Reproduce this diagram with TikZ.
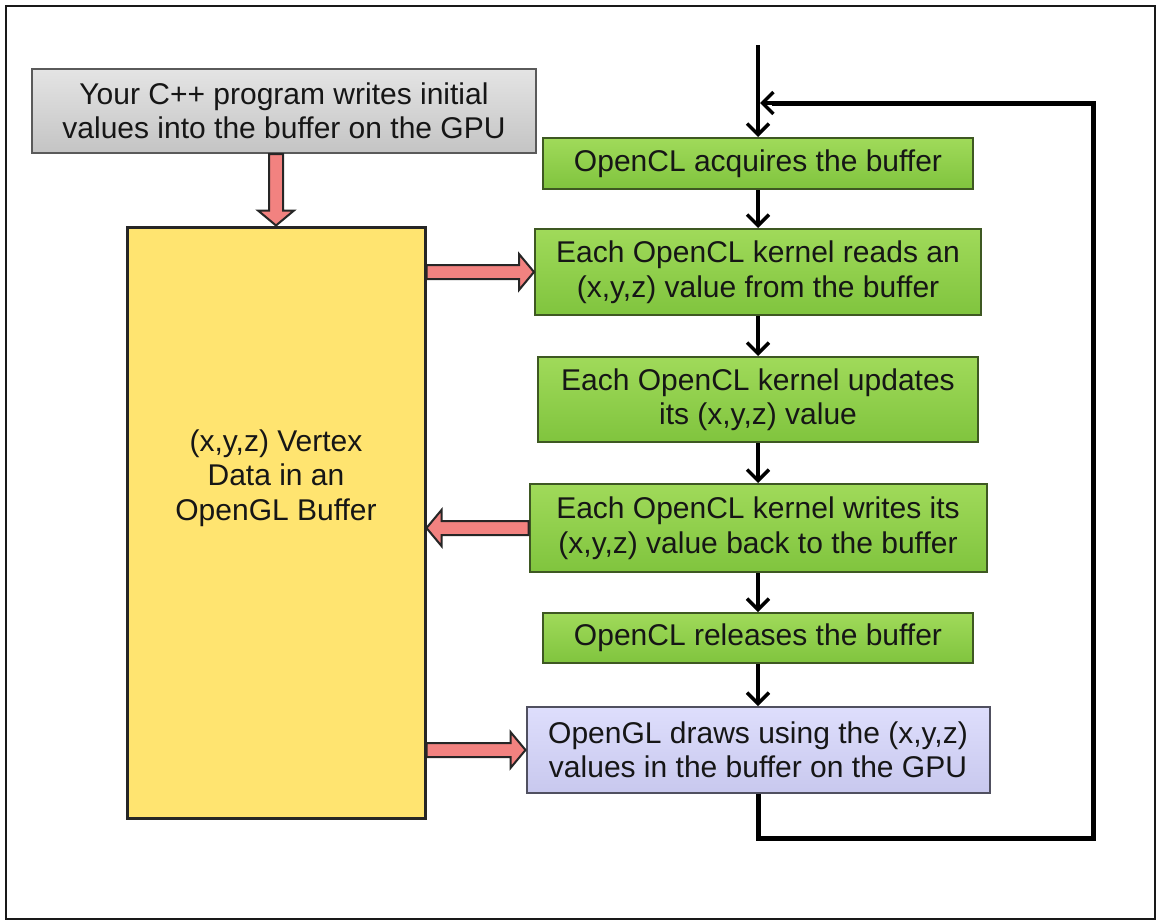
\documentclass[tikz,border=0pt]{standalone}
\usepackage{fontspec}
\setmainfont{Liberation Sans}
\usetikzlibrary{arrows.meta,calc}
\definecolor{grayfillA}{RGB}{228,228,228}
\definecolor{grayfillB}{RGB}{196,196,196}
\definecolor{grayedge}{RGB}{90,90,90}
\definecolor{greenA}{RGB}{160,218,90}
\definecolor{greenB}{RGB}{128,196,62}
\definecolor{greenedge}{RGB}{62,88,34}
\definecolor{yellowfill}{RGB}{255,228,112}
\definecolor{lavA}{RGB}{222,222,252}
\definecolor{lavB}{RGB}{200,200,238}
\definecolor{lavedge}{RGB}{80,80,96}
\definecolor{pinkfill}{RGB}{242,130,128}
\definecolor{txtc}{RGB}{22,22,22}
\tikzset{
  basebox/.style={rectangle, inner sep=0pt, align=center, text=txtc,
    font=\fontsize{30}{34.5}\selectfont},
  graybox/.style={basebox, draw=grayedge, line width=2pt, top color=grayfillA, bottom color=grayfillB},
  greenbox/.style={basebox, draw=greenedge, line width=2pt, top color=greenA, bottom color=greenB},
  lavbox/.style={basebox, draw=lavedge, line width=2pt, top color=lavA, bottom color=lavB},
  yellowbox/.style={rectangle, inner sep=0pt, draw=black!85, line width=3pt, fill=yellowfill},
  flow/.style={draw=black, line width=4pt, -{Straight Barb[length=11pt,width=22pt,line width=3.5pt]}},
  loopline/.style={draw=black, line width=5pt, line join=miter},
  pinkarr/.style={draw=black!85, line width=2pt, fill=pinkfill, line join=miter}
}
\newcommand{\pinkarrow}[2]{%
  \draw[pinkarr] ($(#1)!7pt!90:(#2)$) -- ($(#2)!15pt!(#1)!7pt!-90:(#1)$)
    -- ($(#2)!15pt!(#1)!18pt!-90:(#1)$) -- (#2)
    -- ($(#2)!15pt!(#1)!18pt!90:(#1)$) -- ($(#2)!15pt!(#1)!7pt!90:(#1)$)
    -- ($(#1)!7pt!-90:(#2)$) -- cycle;}
\begin{document}
\begin{tikzpicture}[x=1pt,y=-1pt]
\useasboundingbox (0,0) rectangle (1160,924);
\draw[line width=2pt, draw=black!90] (6,6) rectangle (1155,919);

% left column
\node[graybox, minimum width=504pt, minimum height=84pt] (gray) at (284,111)
  {Your C++ program writes initial\\values into the buffer on the GPU};
\node[yellowbox, minimum width=298pt, minimum height=591pt] (yel) at (276,522.5) {};
\node[basebox] (yeltext) at (276,478) {(x,y,z) Vertex\\Data in an\\OpenGL Buffer};

% right column
\node[greenbox, minimum width=430pt, minimum height=51pt] (b1) at (758,163.5) {OpenCL acquires the buffer};
\node[greenbox, minimum width=446pt, minimum height=86pt] (b2) at (758,272) {Each OpenCL kernel reads an\\(x,y,z) value from the buffer};
\node[greenbox, minimum width=440pt, minimum height=85pt] (b3) at (758,399.5) {Each OpenCL kernel updates\\its (x,y,z) value};
\node[greenbox, minimum width=457pt, minimum height=88pt] (b4) at (758,528) {Each OpenCL kernel writes its\\(x,y,z) value back to the buffer};
\node[greenbox, minimum width=430pt, minimum height=50pt] (b5) at (758,638) {OpenCL releases the buffer};
\node[lavbox, minimum width=463pt, minimum height=86pt] (b6) at (758,750) {OpenGL draws using the (x,y,z)\\values in the buffer on the GPU};

% black flow
\coordinate (top) at (758,45);
\coordinate (lb) at (758,838);
\coordinate (rb) at (1093,838);
\coordinate (rt) at (1093,103);
\coordinate (jn) at (760,103);
\draw[flow] (top) -- (b1.north);
\draw[flow] (b1.south) -- (b2.north);
\draw[flow] (b2.south) -- (b3.north);
\draw[flow] (b3.south) -- (b4.north);
\draw[flow] (b4.south) -- (b5.north);
\draw[flow] (b5.south) -- (b6.north);
\draw[loopline] (b6.south) -- (lb) -- (rb) -- (rt) -- ($(jn)+(12,0)$);
\draw[flow] ($(jn)+(14,0)$) -- (jn);

% pink block arrows
\coordinate (p1s) at (yel.north|-gray.south);
\coordinate (p2s) at (yel.east|-b2.west);
\coordinate (p3e) at (yel.east|-b4.west);
\coordinate (p4s) at (yel.east|-b6.west);
\pinkarrow{p1s}{yel.north}
\pinkarrow{p2s}{b2.west}
\pinkarrow{b4.west}{p3e}
\pinkarrow{p4s}{b6.west}
\end{tikzpicture}
\end{document}
